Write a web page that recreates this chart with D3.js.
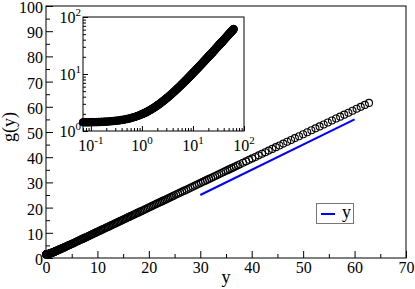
<!DOCTYPE html>
<html>
<head>
<meta charset="utf-8">
<script src="https://cdn.jsdelivr.net/npm/d3@7"></script>
<style>
  body { margin: 0; background: #fff; }
  svg text { font-family: "Liberation Serif", "Times New Roman", serif; fill: #000; }
</style>
</head>
<body>
<svg id="chart" width="415" height="289"></svg>
<script>
var ys = [
  0.07, 0.076, 0.082, 0.088, 0.095, 0.103, 0.111, 0.12, 0.13, 0.14,
  0.151, 0.163, 0.176, 0.19, 0.205, 0.222, 0.24, 0.259, 0.28, 0.302,
  0.326, 0.352, 0.38, 0.41, 0.443, 0.479, 0.517, 0.558, 0.603, 0.651,
  0.703, 0.76, 0.82, 0.886, 0.957,
  1.0, 1.04, 1.08, 1.12, 1.17, 1.22, 1.27, 1.32, 1.37, 1.42,
  1.48, 1.54, 1.6, 1.67, 1.74, 1.81, 1.88, 1.96, 2.04, 2.12,
  2.2, 2.29, 2.38, 2.48, 2.58, 2.68, 2.79, 2.9, 3.02, 3.14,
  3.27, 3.4, 3.54, 3.68, 3.83, 3.98, 4.14, 4.31, 4.48, 4.66, 4.85,
  5.0, 5.2, 5.4, 5.6, 5.8, 6.0, 6.2, 6.4, 6.6, 6.8,
  7.0, 7.2, 7.4, 7.6, 7.8, 8.0, 8.2, 8.4, 8.6, 8.8,
  9.0, 9.2, 9.4, 9.6, 9.8, 10.0,
  10.25, 10.5, 10.75, 11.0, 11.25, 11.5, 11.75, 12.0, 12.25, 12.5,
  12.75, 13.0, 13.25, 13.5, 13.75, 14.0, 14.25, 14.5, 14.75, 15.0,
  15.25, 15.5, 15.75, 16.0, 16.25, 16.5, 16.75, 17.0, 17.25, 17.5,
  17.75, 18.0,
  18.3, 18.6, 18.9, 19.2, 19.5, 19.8, 20.1, 20.4, 20.7, 21.0,
  21.3, 21.6, 21.9, 22.2, 22.5, 22.8, 23.1, 23.4, 23.7, 24.0,
  24.3, 24.6, 24.9,
  25.3, 25.7, 26.1, 26.5, 26.9, 27.3, 27.7, 28.1, 28.5, 28.9,
  29.3, 29.7, 30.1, 30.5, 30.9, 31.3, 31.7, 32.1, 32.5, 32.9,
  33.3, 33.7, 34.1, 34.5, 34.9, 35.3, 35.7, 36.1, 36.5, 36.9,
  37.3, 37.7,
  38.3, 38.9, 39.5, 40.1, 40.7, 41.35, 42.0, 42.65, 43.3, 44.0,
  44.7, 45.4, 46.15, 46.9, 47.65, 48.4, 49.2, 50.0, 50.8, 51.6,
  52.4, 53.2, 54.0, 54.8, 55.6, 56.4, 57.2, 58.0, 58.8, 59.6,
  60.4, 61.2, 62.0, 62.8
];
// g(y) at those points
var gs = [
  1.42, 1.42, 1.42, 1.42, 1.42, 1.43, 1.43, 1.43, 1.43, 1.44,
  1.44, 1.45, 1.45, 1.46, 1.46, 1.47, 1.48, 1.49, 1.50, 1.51,
  1.52, 1.53, 1.55, 1.57, 1.58, 1.61, 1.63, 1.65, 1.68, 1.72,
  1.75, 1.79, 1.84, 1.88, 1.94,
  1.97, 2.00, 2.03, 2.06, 2.10, 2.14, 2.18, 2.23, 2.27, 2.31,
  2.36, 2.41, 2.46, 2.52, 2.58, 2.64, 2.70, 2.77, 2.84, 2.91,
  2.98, 3.06, 3.15, 3.24, 3.33, 3.42, 3.52, 3.62, 3.73, 3.84,
  3.96, 4.08, 4.21, 4.34, 4.48, 4.62, 4.77, 4.93, 5.09, 5.26, 5.44,
  5.58, 5.77, 5.96, 6.15, 6.34, 6.53, 6.73, 6.92, 7.11, 7.30,
  7.49, 7.68, 7.87, 8.07, 8.26, 8.45, 8.64, 8.83, 9.03, 9.22,
  9.41, 9.60, 9.80, 9.99, 10.18, 10.37,
  10.61, 10.86, 11.10, 11.34, 11.58, 11.82, 12.06, 12.30, 12.54, 12.78,
  13.03, 13.27, 13.51, 13.75, 13.99, 14.23, 14.47, 14.72, 14.96, 15.20,
  15.44, 15.68, 15.93, 16.17, 16.41, 16.65, 16.89, 17.13, 17.38, 17.62,
  17.86, 18.10,
  18.39, 18.68, 18.97, 19.26, 19.55, 19.84, 20.14, 20.43, 20.72, 21.01,
  21.30, 21.59, 21.88, 22.17, 22.46, 22.75, 23.04, 23.33, 23.62, 23.91,
  24.20, 24.49, 24.78,
  25.17, 25.56, 25.95, 26.34, 26.72, 27.11, 27.50, 27.89, 28.28, 28.66,
  29.05, 29.44, 29.83, 30.22, 30.60, 30.99, 31.38, 31.77, 32.16, 32.54,
  32.93, 33.32, 33.71, 34.10, 34.48, 34.87, 35.26, 35.65, 36.04, 36.42,
  36.81, 37.20,
  37.77, 38.35, 38.94, 39.52, 40.10, 40.73, 41.36, 41.99, 42.62, 43.30,
  43.98, 44.66, 45.39, 46.11, 46.84, 47.57, 48.34, 49.12, 49.90, 50.67,
  51.45, 52.22, 53.00, 53.78, 54.55, 55.33, 56.10, 56.88, 57.66, 58.43,
  59.21, 59.98, 60.76, 61.54
];

// reference line "y"
var refX = [30, 60];
var refY = [25, 55];
var legendLabel = "y";

var xTicks = [0, 10, 20, 30, 40, 50, 60, 70];
var xMinor = [5, 15, 25, 35, 45, 55, 65];
var yTicks = [0, 10, 20, 30, 40, 50, 60, 70, 80, 90, 100];
var yMinor = [5, 15, 25, 35, 45, 55, 65, 75, 85, 95];

var insetXMajor = [0.1, 1, 10, 100];
var insetXExp = ["-1", "0", "1", "2"];
var insetXMinor = [0.07, 0.08, 0.09, 0.2, 0.3, 0.4, 0.5, 0.6, 0.7, 0.8, 0.9,
                   2, 3, 4, 5, 6, 7, 8, 9, 20, 30, 40, 50, 60, 70, 80, 90];
var insetYMajor = [1, 10, 100];
var insetYExp = ["0", "1", "2"];
var insetYMinor = [2, 3, 4, 5, 6, 7, 8, 9, 20, 30, 40, 50, 60, 70, 80, 90];

var points = ys.map(function(d, i) { return {y: d, g: gs[i]}; });

var svg = d3.select("#chart");

// ---- main plot
var x = d3.scaleLinear().domain([0, 70]).range([46, 406]);
var y = d3.scaleLinear().domain([0, 100]).range([258, 6]);

var gx = svg.append("g").attr("transform", "translate(0,258)")
    .call(d3.axisBottom(x).tickValues(xTicks).tickSize(-7).tickFormat(d3.format("d")));
gx.select(".domain").remove();
gx.selectAll("text").attr("y", 15).attr("dy", 0).style("font-size", "16px");
gx.selectAll("line").attr("stroke", "#000");

var gxm = svg.append("g").attr("transform", "translate(0,258)")
    .call(d3.axisBottom(x).tickValues(xMinor).tickSize(-4).tickFormat(""));
gxm.select(".domain").remove();

var gy = svg.append("g").attr("transform", "translate(46,0)")
    .call(d3.axisLeft(y).tickValues(yTicks).tickSize(-7).tickFormat(d3.format("d")));
gy.select(".domain").remove();
gy.selectAll("text").attr("x", -3).attr("dy", "0.4em").style("font-size", "16px");

var gym = svg.append("g").attr("transform", "translate(46,0)")
    .call(d3.axisLeft(y).tickValues(yMinor).tickSize(-4).tickFormat(""));
gym.select(".domain").remove();

svg.append("rect")
    .attr("x", x(0)).attr("y", y(100))
    .attr("width", x(70) - x(0)).attr("height", y(0) - y(100))
    .attr("fill", "none").attr("stroke", "#000").attr("stroke-width", 1);

svg.append("text").attr("x", 226).attr("y", 283)
    .attr("text-anchor", "middle").style("font-size", "18px").text("y");
svg.append("text")
    .attr("transform", "translate(15,127) rotate(-90)")
    .attr("text-anchor", "middle").style("font-size", "18px").text("g(y)");

// data circles
svg.append("g").selectAll("circle")
    .data(points)
    .enter().append("circle")
    .attr("cx", function(d) { return x(d.y); })
    .attr("cy", function(d) { return y(d.g); })
    .attr("r", 3.5)
    .attr("fill", "none")
    .attr("stroke", "#000")
    .attr("stroke-width", 1.1);

// reference line
var refLine = d3.line()
    .x(function(d) { return x(d[0]); })
    .y(function(d) { return y(d[1]); });
svg.append("path")
    .datum(refX.map(function(d, i) { return [d, refY[i]]; }))
    .attr("d", refLine)
    .attr("fill", "none")
    .attr("stroke", "#0000ff")
    .attr("stroke-width", 2);

// legend
svg.append("rect").attr("x", 316.5).attr("y", 203.5).attr("width", 37).attr("height", 20)
    .attr("fill", "#fff").attr("stroke", "#777").attr("stroke-width", 1);
svg.append("line").attr("x1", 321).attr("x2", 335).attr("y1", 214).attr("y2", 214)
    .attr("stroke", "#0000ff").attr("stroke-width", 2);
svg.append("text").attr("x", 342).attr("y", 218).style("font-size", "18px").text(legendLabel);

// ---- inset
var xi = d3.scaleLog().domain([0.07, 100]).range([83, 244]);
var yi = d3.scaleLog().domain([1, 100]).range([131, 17]);

svg.append("rect")
    .attr("x", xi(0.07)).attr("y", yi(100))
    .attr("width", xi(100) - xi(0.07)).attr("height", yi(1) - yi(100))
    .attr("fill", "#fff");

var ix = svg.append("g").attr("transform", "translate(0,131)")
    .call(d3.axisBottom(xi).tickValues(insetXMajor).tickSize(-5).tickFormat(""));
ix.select(".domain").remove();
var ixm = svg.append("g").attr("transform", "translate(0,131)")
    .call(d3.axisBottom(xi).tickValues(insetXMinor).tickSize(-3).tickFormat(""));
ixm.select(".domain").remove();

var iy = svg.append("g").attr("transform", "translate(83,0)")
    .call(d3.axisLeft(yi).tickValues(insetYMajor).tickSize(-5).tickFormat(""));
iy.select(".domain").remove();
var iym = svg.append("g").attr("transform", "translate(83,0)")
    .call(d3.axisLeft(yi).tickValues(insetYMinor).tickSize(-3).tickFormat(""));
iym.select(".domain").remove();

insetXMajor.forEach(function(v, i) {
  var t = svg.append("text").attr("x", xi(v)).attr("y", 151)
      .attr("text-anchor", "middle").style("font-size", "16px");
  t.append("tspan").text("10");
  t.append("tspan").attr("dy", -7).style("font-size", "11px").text(insetXExp[i]);
});
insetYMajor.forEach(function(v, i) {
  var t = svg.append("text").attr("x", 81).attr("y", yi(v) + 6)
      .attr("text-anchor", "end").style("font-size", "16px");
  t.append("tspan").text("10");
  t.append("tspan").attr("dy", -7).style("font-size", "11px").text(insetYExp[i]);
});

// inset markers are packed so tight they read as a solid band
svg.append("g").selectAll("circle")
    .data(points)
    .enter().append("circle")
    .attr("cx", function(d) { return xi(d.y); })
    .attr("cy", function(d) { return yi(d.g); })
    .attr("r", 3.8)
    .attr("fill", "#000")
    .attr("stroke", "#000")
    .attr("stroke-width", 1);

svg.append("rect")
    .attr("x", xi(0.07)).attr("y", yi(100))
    .attr("width", xi(100) - xi(0.07)).attr("height", yi(1) - yi(100))
    .attr("fill", "none").attr("stroke", "#000").attr("stroke-width", 1);
</script>
</body>
</html>
